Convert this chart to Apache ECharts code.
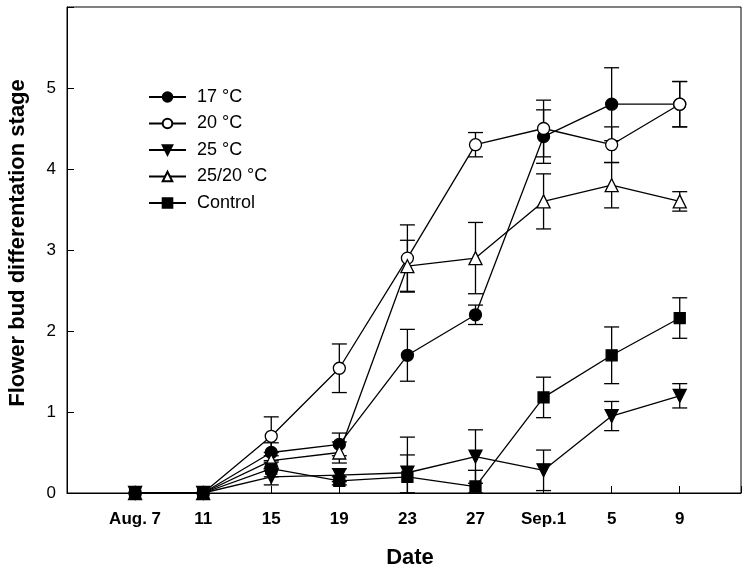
<!DOCTYPE html>
<html>
<head>
<meta charset="utf-8">
<script src="https://cdn.jsdelivr.net/npm/echarts@6/dist/echarts.min.js"></script>
<style>html,body{margin:0;padding:0;background:#fff}#c{width:750px;height:577px}</style>
</head>
<body>
<div id="c"></div>
<script>
var tickLabels = ['Aug. 7', '11', '15', '19', '23', '27', 'Sep.1', '5', '9'];
var seriesNames = ['17 \u00B0C', '20 \u00B0C', '25 \u00B0C', '25/20 \u00B0C', 'Control'];
var t17 = [0, 0, 0.5, 0.6, 1.7, 2.2, 4.4, 4.8, 4.8];
var t20 = [0, 0, 0.7, 1.54, 2.9, 4.3, 4.5, 4.3, 4.8];
var t25 = [0, 0, 0.2, 0.22, 0.25, 0.45, 0.28, 0.95, 1.2];
var t2520 = [0, 0, 0.4, 0.5, 2.8, 2.9, 3.6, 3.8, 3.6];
var ctrl = [0, 0, 0.3, 0.15, 0.2, 0.08, 1.18, 1.7, 2.16];
var e17 = [0, 0, 0.12, 0.14, 0.32, 0.12, 0.33, 0.45, 0.28];
var e20 = [0, 0, 0.24, 0.3, 0.41, 0.15, 0.35, 0.22, 0.28];
var e25 = [0, 0, 0.1, 0.08, 0.44, 0.33, 0.25, 0.18, 0.15];
var e2520 = [0, 0, 0.1, 0.13, 0.32, 0.44, 0.34, 0.28, 0.12];
var eCtrl = [0, 0, 0.1, 0.05, 0.27, 0.2, 0.25, 0.35, 0.25];
var yTitle = 'Flower bud differentation stage';
var xTitle = 'Date';

var values = [t17, t20, t25, t2520, ctrl];
var errors = [e17, e20, e25, e2520, eCtrl];
var styles = [
  {symbol: 'circle', size: 12, fill: '#000', rot: 0},
  {symbol: 'circle', size: 12, fill: '#fff', rot: 0},
  {symbol: 'triangle', size: 13, fill: '#000', rot: 180},
  {symbol: 'triangle', size: 13, fill: '#fff', rot: 0},
  {symbol: 'rect', size: 11, fill: '#000', rot: 0}
];

function errData(v, e) {
  return v.map(function (y, i) { return [i, Math.max(0, y - e[i]), y + e[i]]; });
}
function renderErr(params, api) {
  var x = api.value(0);
  var lo = api.coord([x, api.value(1)]);
  var hi = api.coord([x, api.value(2)]);
  if (Math.abs(hi[1] - lo[1]) < 0.5) return null;
  var hw = 7.5;
  var st = {stroke: '#000', lineWidth: 1.3};
  return {type: 'group', children: [
    {type: 'line', shape: {x1: lo[0], y1: lo[1], x2: hi[0], y2: hi[1]}, style: st},
    {type: 'line', shape: {x1: hi[0] - hw, y1: hi[1], x2: hi[0] + hw, y2: hi[1]}, style: st},
    {type: 'line', shape: {x1: lo[0] - hw, y1: lo[1], x2: lo[0] + hw, y2: lo[1]}, style: st}
  ]};
}

var series = [];
values.forEach(function (v, k) {
  series.push({
    type: 'custom', name: seriesNames[k] + '_err', renderItem: renderErr,
    data: errData(v, errors[k]), z: 1, silent: true
  });
});
values.forEach(function (v, k) {
  var s = styles[k];
  series.push({
    type: 'line', name: seriesNames[k],
    data: v.map(function (y, i) { return [i, y]; }),
    symbol: s.symbol, symbolSize: s.size, symbolRotate: s.rot,
    showAllSymbol: true,
    lineStyle: {color: '#000', width: 1.3},
    itemStyle: {color: s.fill, borderColor: '#000', borderWidth: 1.3},
    z: 3 + k, animation: false
  });
});

var chart = echarts.init(document.getElementById('c'), null, {renderer: 'canvas'});
chart.setOption({
  animation: false,
  backgroundColor: '#fff',
  grid: {left: 67, right: 9, top: 7, bottom: 84, show: true, borderColor: '#000', borderWidth: 1,
         containLabel: false, outerBoundsMode: 'none'},
  legend: {
    data: seriesNames, orient: 'vertical', left: 148, top: 88, padding: 0,
    itemWidth: 37, itemHeight: 12, itemGap: 8.5,
    textStyle: {fontFamily: 'Liberation Sans, Arial', fontSize: 18, color: '#000', padding: [0, 0, 0, 6]}
  },
  graphic: [
    {type: 'text', x: 18, y: 243, rotation: Math.PI / 2,
     style: {text: yTitle, textAlign: 'center', textVerticalAlign: 'middle',
             font: 'bold 22px "Liberation Sans", Arial', fill: '#000'}},
    {type: 'text', x: 410, y: 558,
     style: {text: xTitle, textAlign: 'center', textVerticalAlign: 'middle',
             font: 'bold 22px "Liberation Sans", Arial', fill: '#000'}}
  ],
  xAxis: {
    type: 'value', min: -1, max: 8.9, interval: 1,
    splitLine: {show: false},
    axisLine: {onZero: false, lineStyle: {color: '#000', width: 1}},
    axisTick: {inside: true, length: 7, lineStyle: {color: '#000'}},
    axisLabel: {
      margin: 18, color: '#000', fontSize: 17, fontWeight: 'bold',
      fontFamily: 'Liberation Sans, Arial',
      formatter: function (val) {
        var i = Math.round(val);
        return (Math.abs(val - i) < 1e-6 && i >= 0 && i < tickLabels.length) ? tickLabels[i] : '';
      }
    }
  },
  yAxis: {
    type: 'value', min: 0, max: 6, interval: 1,
    splitLine: {show: false},
    axisLine: {show: true, onZero: false, lineStyle: {color: '#000', width: 1}},
    axisTick: {show: true, inside: true, length: 7, lineStyle: {color: '#000'}},
    axisLabel: {
      margin: 11, color: '#000', fontSize: 17, fontFamily: 'Liberation Sans, Arial',
      formatter: function (val) { return val <= 5 ? String(val) : ''; }
    }
  },
  series: series
});
</script>
</body>
</html>
